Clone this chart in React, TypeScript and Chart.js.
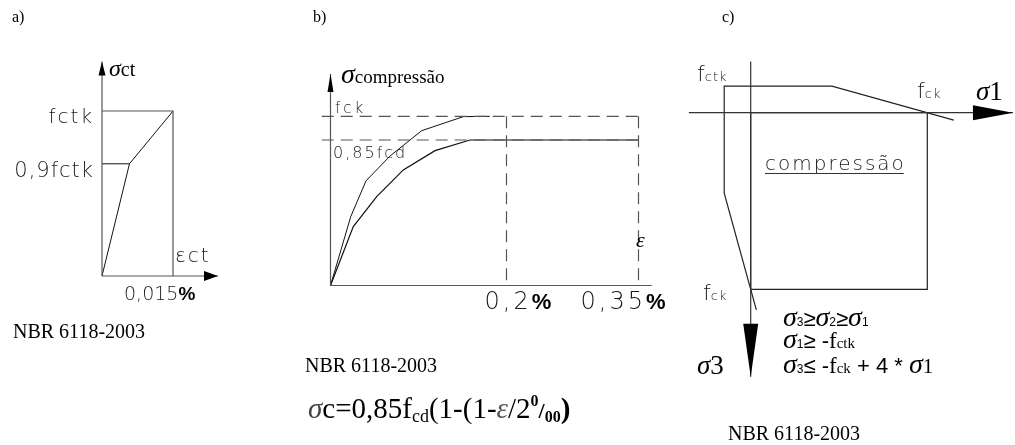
import React, { useEffect, useRef } from "react";
import { Chart, registerables } from "chart.js";

Chart.register(...registerables);

const W = 1015;
const H = 445;

// a) tensile stress–strain law (strain in %, stress drawn relative to fctk)
const tensionStrain = [0, 0.0058, 0.015];
const tensionStress = [0, 0.68, 1];
const tensionLevels = [0.68, 1];
const tensionLevelLabels = ["0,9fctk", "fctk"];
const tensionStrainTick = 0.015;
const tensionStrainLabel = "0,015";

// b) compressive stress–strain law (strain in %, stress relative to fck)
const compStrainK = [0, 0.023, 0.0403, 0.0676, 0.1036, 0.151, 0.181];
const compStressK = [0, 0.407, 0.618, 0.765, 0.915, 0.998, 1];
const compStrainD = [0, 0.0259, 0.0525, 0.0827, 0.1188, 0.1585, 0.35];
const compStressD = [0, 0.348, 0.525, 0.683, 0.797, 0.86, 0.86];
const compLevels = [1, 0.86];
const compLevelLabels = ["fck", "0,85fcd"];
const compStrainTicks = [0.2, 0.35];
const compStrainLabels = ["0,2", "0,35"];

// c) biaxial failure envelope (σ1 to the right, σ3 downwards, relative to fck)
const envSigma1 = [0.032, -0.15, -0.15, 0.46, 1.15];
const envSigma3 = [1.117, 0.456, -0.15, -0.15, 0.042];
const zoneSigma1 = [0, 1, 1, 0, 0];
const zoneSigma3 = [0, 0, 1, 1, 0];

const CAD = (px: number) => `200 ${px}px "DejaVu Sans"`;
const SERIF = (px: number) => `${px}px "Liberation Serif"`;
const SERIF_I = (px: number) => `italic ${px}px "Liberation Serif"`;
const SERIF_B = (px: number) => `bold ${px}px "Liberation Serif"`;
const SANS = (px: number) => `${px}px "Liberation Sans"`;
const SANS_B = (px: number) => `bold ${px}px "Liberation Sans"`;
const CAD_INK = "#1a1a1a";

type Frame = {
  x: [number, number];
  y: [number, number];
  ox: number;
  oy: number;
  kx: number;
  ky: number;
  reverseY?: boolean;
};

function padding(f: Frame) {
  const left = f.ox + f.x[0] * f.kx;
  const right = W - (f.ox + f.x[1] * f.kx);
  const top = f.reverseY ? f.oy + f.y[0] * f.ky : f.oy - f.y[1] * f.ky;
  const bottom = f.reverseY ? H - (f.oy + f.y[1] * f.ky) : H - (f.oy - f.y[0] * f.ky);
  return { left, right, top, bottom };
}

const pts = (xs: number[], ys: number[]) => xs.map((x, i) => ({ x, y: ys[i] }));

function line(xs: number[], ys: number[], color: string, width = 1.2, dash: number[] = []) {
  return {
    data: pts(xs, ys),
    showLine: true,
    borderColor: color,
    borderWidth: width,
    borderDash: dash,
    pointRadius: 0,
    fill: false,
    tension: 0,
    clip: false as const,
  };
}

type Run = { t: string; f: string; ls?: number; dy?: number; c?: string };

function drawRuns(
  ctx: CanvasRenderingContext2D,
  x: number,
  y: number,
  list: Run[],
  align: "left" | "right" = "left"
) {
  ctx.save();
  ctx.textAlign = "left";
  ctx.textBaseline = "alphabetic";
  const widths = list.map((r) => {
    ctx.font = r.f;
    (ctx as any).letterSpacing = `${r.ls ?? 0}px`;
    return ctx.measureText(r.t).width;
  });
  let cx = align === "right" ? x - widths.reduce((a, b) => a + b, 0) : x;
  list.forEach((r, i) => {
    ctx.font = r.f;
    (ctx as any).letterSpacing = `${r.ls ?? 0}px`;
    ctx.fillStyle = r.c ?? "#000";
    ctx.fillText(r.t, cx, y + (r.dy ?? 0));
    cx += widths[i];
  });
  ctx.restore();
  return cx;
}

function arrowHead(
  ctx: CanvasRenderingContext2D,
  tx: number,
  ty: number,
  dir: "up" | "down" | "right",
  len: number,
  half: number,
  color = "#000"
) {
  ctx.save();
  ctx.fillStyle = color;
  ctx.beginPath();
  ctx.moveTo(tx, ty);
  if (dir === "up") {
    ctx.lineTo(tx - half, ty + len);
    ctx.lineTo(tx + half, ty + len);
  } else if (dir === "down") {
    ctx.lineTo(tx - half, ty - len);
    ctx.lineTo(tx + half, ty - len);
  } else {
    ctx.lineTo(tx - len, ty - half);
    ctx.lineTo(tx - len, ty + half);
  }
  ctx.closePath();
  ctx.fill();
  ctx.restore();
}

function config(frame: Frame, datasets: any[], draw: (chart: any) => void): any {
  return {
    type: "scatter",
    data: { datasets },
    options: {
      responsive: false,
      animation: false,
      events: [],
      layout: { padding: padding(frame) },
      plugins: { legend: { display: false }, tooltip: { enabled: false } },
      scales: {
        x: { type: "linear", display: false, min: frame.x[0], max: frame.x[1] },
        y: {
          type: "linear",
          display: false,
          min: frame.y[0],
          max: frame.y[1],
          reverse: !!frame.reverseY,
        },
      },
    },
    plugins: [{ id: "annotations", afterDatasetsDraw: (chart: any) => draw(chart) }],
  };
}

// ---------- a) ----------
const frameA: Frame = { x: [0, 0.0245], y: [0, 1.3], ox: 102, oy: 276, kx: 116 / 0.0245, ky: 165 };

function chartA(): any {
  const gray = "#555";
  const sMax = tensionStress[tensionStress.length - 1];
  const datasets = [
    line([0, 0], [0, frameA.y[1]], gray),
    line([0, frameA.x[1]], [0, 0], gray),
    line([0, tensionStrainTick, tensionStrainTick], [sMax, sMax, 0], gray),
    line([0, tensionStrain[1]], [tensionLevels[0], tensionLevels[0]], "#111", 1),
    line(tensionStrain, tensionStress, "#111", 1),
  ];
  return config(frameA, datasets, (chart) => {
    const ctx = chart.ctx as CanvasRenderingContext2D;
    const X = (v: number) => chart.scales.x.getPixelForValue(v);
    const Y = (v: number) => chart.scales.y.getPixelForValue(v);
    arrowHead(ctx, X(0), Y(frameA.y[1]), "up", 14, 3.5);
    arrowHead(ctx, X(frameA.x[1]), Y(0), "right", 14, 5);
    drawRuns(ctx, 12, 22, [{ t: "a)", f: SERIF(16) }]);
    drawRuns(ctx, 109, 76, [
      { t: "σ", f: SERIF_I(24) },
      { t: "ct", f: SERIF(20) },
    ]);
    drawRuns(ctx, 94, Y(tensionLevels[1]) + 12, [{ t: tensionLevelLabels[1], f: CAD(20), ls: 2, c: CAD_INK }], "right");
    drawRuns(ctx, 94, Y(tensionLevels[0]) + 13, [{ t: tensionLevelLabels[0], f: CAD(21), ls: 1, c: CAD_INK }], "right");
    drawRuns(ctx, 175, 262, [{ t: "εct", f: CAD(20), ls: 2, c: CAD_INK }]);
    drawRuns(ctx, X(tensionStrainTick) - 49, 300, [
      { t: tensionStrainLabel, f: CAD(19), ls: 0, c: CAD_INK },
      { t: "%", f: SANS_B(19) },
    ]);
    drawRuns(ctx, 13, 338, [{ t: "NBR 6118-2003", f: SERIF(20) }]);
  });
}

// ---------- b) ----------
const frameB: Frame = { x: [-0.012, 0.365], y: [0, 1.25], ox: 330.5, oy: 285.5, kx: 880, ky: 169.2 };

function chartB(): any {
  const gray = "#555";
  const dash = [12, 7];
  const top = compLevels[0];
  const last = compStrainTicks[compStrainTicks.length - 1];
  const datasets = [
    line([0, 0], [0, frameB.y[1]], gray),
    line([0, frameB.x[1]], [0, 0], gray),
    ...compLevels.map((lv) => line([-0.01, last], [lv, lv], gray, 1.2, dash)),
    ...compStrainTicks.map((t) => line([t, t], [top, 0], gray, 1.2, dash)),
    line(compStrainK, compStressK, "#111", 1),
    line(compStrainD, compStressD, "#111", 1.2),
  ];
  return config(frameB, datasets, (chart) => {
    const ctx = chart.ctx as CanvasRenderingContext2D;
    const X = (v: number) => chart.scales.x.getPixelForValue(v);
    const Y = (v: number) => chart.scales.y.getPixelForValue(v);
    arrowHead(ctx, X(0), Y(frameB.y[1]), "up", 18, 3);
    drawRuns(ctx, 313, 22, [{ t: "b)", f: SERIF(16) }]);
    drawRuns(ctx, 341, 83, [
      { t: "σ", f: SERIF_I(28) },
      { t: "compressão", f: SERIF(19) },
    ]);
    drawRuns(ctx, 335, Y(compLevels[0]) - 3, [{ t: compLevelLabels[0], f: CAD(15), ls: 3, c: CAD_INK }]);
    drawRuns(ctx, 333, Y(compLevels[1]) + 18, [{ t: compLevelLabels[1], f: CAD(16), ls: 2, c: CAD_INK }]);
    drawRuns(ctx, 636, 247, [{ t: "ε", f: SERIF_I(22) }]);
    compStrainTicks.forEach((t, i) => {
      drawRuns(ctx, X(t) - (i === 0 ? 22 : 58), 309, [
        { t: compStrainLabels[i], f: CAD(24), ls: 3, c: CAD_INK },
        { t: "%", f: SANS_B(22) },
      ]);
    });
    drawRuns(ctx, 305, 372, [{ t: "NBR 6118-2003", f: SERIF(20) }]);
    drawRuns(ctx, 308, 418, [
      { t: "σ", f: SERIF_I(29), c: "#444" },
      { t: "c=0,85f", f: SERIF(29) },
      { t: "cd", f: SERIF(18), dy: 4 },
      { t: "(1-(1-", f: SERIF(29) },
      { t: "ε", f: SERIF_I(29), c: "#555" },
      { t: "/2", f: SERIF(29) },
      { t: "0", f: SERIF_B(16), dy: -12 },
      { t: "/", f: SERIF_B(22) },
      { t: "00", f: SERIF_B(16), dy: 4 },
      { t: ")", f: SERIF_B(29) },
    ]);
  });
}

// ---------- c) ----------
const frameC: Frame = { x: [-0.36, 1.49], y: [-0.3, 1.5], ox: 750.7, oy: 112.7, kx: 176.6, ky: 176.6, reverseY: true };

function chartC(): any {
  const dark = "#222";
  const datasets = [
    line([-0.35, 1.485], [0, 0], "#333"),
    line([0, 0], [-0.29, 1.495], "#333"),
    line(zoneSigma1, zoneSigma3, dark),
    line(envSigma1, envSigma3, dark),
  ];
  return config(frameC, datasets, (chart) => {
    const ctx = chart.ctx as CanvasRenderingContext2D;
    const X = (v: number) => chart.scales.x.getPixelForValue(v);
    const Y = (v: number) => chart.scales.y.getPixelForValue(v);
    arrowHead(ctx, X(1.485), Y(0), "right", 40, 7.5);
    arrowHead(ctx, X(0), Y(1.495), "down", 53, 7.5);
    drawRuns(ctx, 722, 22, [{ t: "c)", f: SERIF(16) }]);
    drawRuns(ctx, 697, 81, [
      { t: "f", f: CAD(22), c: CAD_INK },
      { t: "ctk", f: CAD(13), ls: 1, c: CAD_INK },
    ]);
    drawRuns(ctx, 917, 98, [
      { t: "f", f: CAD(22), c: CAD_INK },
      { t: "ck", f: CAD(13), ls: 1, c: CAD_INK },
    ]);
    drawRuns(ctx, 976, 100, [
      { t: "σ", f: SERIF_I(27) },
      { t: "1", f: SERIF(27) },
    ]);
    const end = drawRuns(ctx, 765, 170, [{ t: "compressão", f: CAD(20), ls: 2, c: CAD_INK }]);
    ctx.save();
    ctx.strokeStyle = "#333";
    ctx.lineWidth = 1;
    ctx.beginPath();
    ctx.moveTo(765, 173.5);
    ctx.lineTo(end - 2, 173.5);
    ctx.stroke();
    ctx.restore();
    drawRuns(ctx, 703, 300, [
      { t: "f", f: CAD(22), c: CAD_INK },
      { t: "ck", f: CAD(13), ls: 1, c: CAD_INK },
    ]);
    drawRuns(ctx, 697, 374, [
      { t: "σ", f: SERIF_I(27) },
      { t: "3", f: SERIF(27) },
    ]);
    const sg = SERIF_I(28);
    const sub = SANS(12);
    const op = SANS(22);
    drawRuns(ctx, 783, 326, [
      { t: "σ", f: sg },
      { t: "3", f: sub },
      { t: "≥", f: op },
      { t: "σ", f: sg },
      { t: "2", f: sub },
      { t: "≥", f: op },
      { t: "σ", f: sg },
      { t: "1", f: sub },
    ]);
    drawRuns(ctx, 783, 348, [
      { t: "σ", f: sg },
      { t: "1", f: sub },
      { t: "≥ -", f: op },
      { t: "f", f: SERIF(23) },
      { t: "ctk", f: SERIF(15) },
    ]);
    drawRuns(ctx, 783, 373, [
      { t: "σ", f: sg },
      { t: "3", f: sub },
      { t: "≤ -", f: op },
      { t: "f", f: SERIF(23) },
      { t: "ck", f: SERIF(15) },
      { t: " + 4 * ", f: op },
      { t: "σ", f: sg },
      { t: "1", f: SERIF(21) },
    ]);
    drawRuns(ctx, 728, 440, [{ t: "NBR 6118-2003", f: SERIF(20) }]);
  });
}

export default function App() {
  const aRef = useRef<HTMLCanvasElement>(null);
  const bRef = useRef<HTMLCanvasElement>(null);
  const cRef = useRef<HTMLCanvasElement>(null);

  useEffect(() => {
    const charts = [
      new Chart(aRef.current as HTMLCanvasElement, chartA()),
      new Chart(bRef.current as HTMLCanvasElement, chartB()),
      new Chart(cRef.current as HTMLCanvasElement, chartC()),
    ];
    return () => charts.forEach((c) => c.destroy());
  }, []);

  const layer: React.CSSProperties = { position: "absolute", left: 0, top: 0, width: W, height: H };
  return (
    <div style={{ position: "fixed", left: 0, top: 0, width: W, height: H, background: "#fff" }}>
      <canvas ref={aRef} width={W} height={H} style={layer} />
      <canvas ref={bRef} width={W} height={H} style={layer} />
      <canvas ref={cRef} width={W} height={H} style={layer} />
    </div>
  );
}
